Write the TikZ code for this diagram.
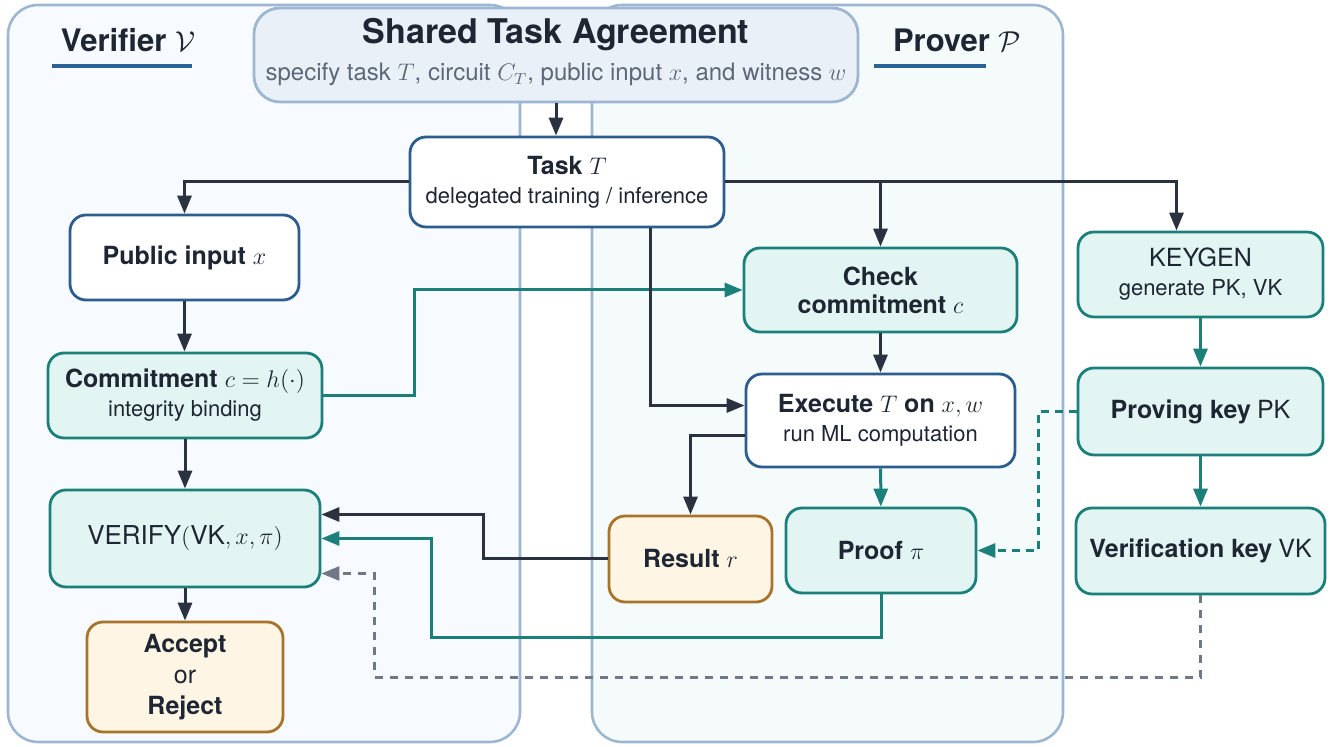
\documentclass[tikz,border=0pt]{standalone}
\usepackage{fontspec}
\setmainfont{TeX Gyre Heros}
\usetikzlibrary{arrows.meta,calc}
\definecolor{ink}{HTML}{1E2633}
\definecolor{subgray}{HTML}{5C6878}
\definecolor{vpanel}{HTML}{F7FAFE}
\definecolor{ppanel}{HTML}{F5FAFB}
\definecolor{panelline}{HTML}{9DB6D2}
\definecolor{sharedfill}{HTML}{EAF0F8}
\definecolor{boxblue}{HTML}{2B5D8F}
\definecolor{tealc}{HTML}{1B7F7A}
\definecolor{tealfill}{HTML}{E2F5F2}
\definecolor{ochre}{HTML}{A8732A}
\definecolor{ochrefill}{HTML}{FEF5E4}
\definecolor{darkc}{HTML}{2B323F}
\definecolor{grayc}{HTML}{6E7886}
\definecolor{lineblue}{HTML}{2A6496}
\newcommand{\hd}[1]{{\fontsize{12.5}{15}\selectfont\bfseries #1}}
\begin{document}
\begin{tikzpicture}[x=0.5pt,y=-0.5pt,
		>={Triangle[length=9pt,width=7pt]},
		box/.style={draw, rounded corners=8pt, line width=1.4pt, align=center, text=ink, inner sep=1pt, font=\fontsize{11}{14.5}\selectfont},
		taskbox/.style={box, draw=boxblue, fill=white},
		zkbox/.style={box, draw=tealc, fill=tealfill},
		outbox/.style={box, draw=ochre, fill=ochrefill},
		panel/.style={draw=panelline, line width=1.3pt, rounded corners=15pt},
		heading/.style={font=\fontsize{15.5}{18}\selectfont\bfseries, text=ink},
		underline/.style={draw=lineblue, line width=2pt},
		arr/.style={->, draw=darkc, line width=1.5pt},
		tarr/.style={->, draw=tealc, line width=1.5pt},
		garr/.style={->, draw=grayc, line width=1.3pt, dash pattern=on 4pt off 3.5pt},
	]
	\useasboundingbox (0,0) rectangle (1340,747);
	\draw[panel, fill=vpanel] (8,5) rectangle (520,742);
	\draw[panel, fill=ppanel] (592,5) rectangle (1063,742);
	
	\node[heading] (vtitle) at (128,40) {Verifier $\mathcal{V}$};
	\draw[underline] (52,66) -- (192,66);
	\node[heading] (ptitle) at (957,40) {Prover $\mathcal{P}$};
	\draw[underline] (874,66) -- (986,66);
	
	\node[box, draw=panelline, fill=sharedfill, rounded corners=13pt, minimum width=302pt, minimum height=47pt, font=\fontsize{12}{18.5}\selectfont] (shared) at (556,55) {{\fontsize{17}{20}\selectfont\bfseries Shared Task Agreement}\\{\color{subgray}specify task $T$, circuit $C_T$, public input $x$, and witness $w$}\rule[-5.5pt]{0pt}{0pt}};
	\node[taskbox, minimum width=157pt, minimum height=45pt] (task) at (567,182) {\hd{Task $T$}\\delegated training / inference};
	
	\node[taskbox, minimum width=114.5pt, minimum height=42.5pt] (pub) at (184.5,257.5) {\hd{Public input $x$}};
	\node[zkbox, minimum width=137pt, minimum height=42.5pt] (commit) at (185,395.5) {\hd{Commitment $c = h(\cdot)$}\\integrity binding};
	\node[zkbox, minimum width=135pt, minimum height=48.5pt, font=\fontsize{13}{15}\selectfont] (verify) at (185,538.5) {VERIFY$($VK$, x, \pi)$};
	\node[outbox, minimum width=98pt, minimum height=55pt, font=\fontsize{12.5}{15.5}\selectfont] (accept) at (185,677) {\textbf{Accept}\\or\\\textbf{Reject}};
	
	\node[zkbox, minimum width=136.5pt, minimum height=42pt, font=\fontsize{12.5}{14}\selectfont] (check) at (880.5,290) {\textbf{Check}\\\textbf{commitment} $c$};
	\node[taskbox, minimum width=134.5pt, minimum height=46.5pt] (exec) at (880.5,420.5) {\hd{Execute $T$ on $x, w$}\\run ML computation};
	\node[outbox, minimum width=81.5pt, minimum height=43pt] (result) at (690.5,559) {\hd{Result $r$}};
	\node[zkbox, minimum width=95pt, minimum height=42.5pt] (proof) at (881,550.5) {\hd{Proof $\pi$}};
	
	\node[zkbox, minimum width=122.5pt, minimum height=42.5pt] (keygen) at (1200.5,274.5) {{\fontsize{12.5}{15}\selectfont KEYGEN}\\generate PK, VK};
	\node[zkbox, minimum width=122.5pt, minimum height=43.5pt] (pk) at (1200.5,411.5) {\hd{Proving key} {\fontsize{12.5}{15}\selectfont PK}};
	\node[zkbox, minimum width=124.5pt, minimum height=43pt] (vk) at (1200.5,551) {\hd{Verification key} {\fontsize{12.5}{15}\selectfont VK}};
	
	\draw[arr] (shared.south) -- (shared.south |- task.north);
	\draw[arr] (task.west) -| (pub.north);
	\draw[arr] (task.east) -| ([xshift=-12pt]keygen.north);
	\draw[arr] (task.east -| check.north) -- (check.north);
	\draw[arr] (pub.south) -- (pub.south |- commit.north);
	\draw[arr] (commit) -- (verify);
	\draw[arr] (verify) -- (accept);
	\draw[tarr] (commit.east) -- ++(91,0) |- (check.west);
	\draw[arr] ([xshift=41.5pt]task.south) |- ([yshift=7.5pt]exec.west);
	\draw[arr] (check) -- (exec);
	\draw[tarr] (exec) -- (proof);
	\draw[arr] ([yshift=-7.5pt]exec.west) -| (result.north);
	\draw[arr] (result.west) -- ++(-124,0) |- ([yshift=12pt]verify.east);
	\draw[tarr] (proof.south) -- ++(0,43) -| ($(verify.east)+(110,0)$) -- (verify.east);
	\draw[tarr] (keygen) -- (pk);
	\draw[tarr] (pk) -- (vk);
	\draw[tarr, dash pattern=on 4pt off 3pt] (pk.west) -- ++(-38,0) |- (proof.east);
	\draw[garr] (vk.south) -- ++(0,82) -| ($(verify.east)+(53,35)$) -- ++(-53,0);
\end{tikzpicture}
\end{document}
